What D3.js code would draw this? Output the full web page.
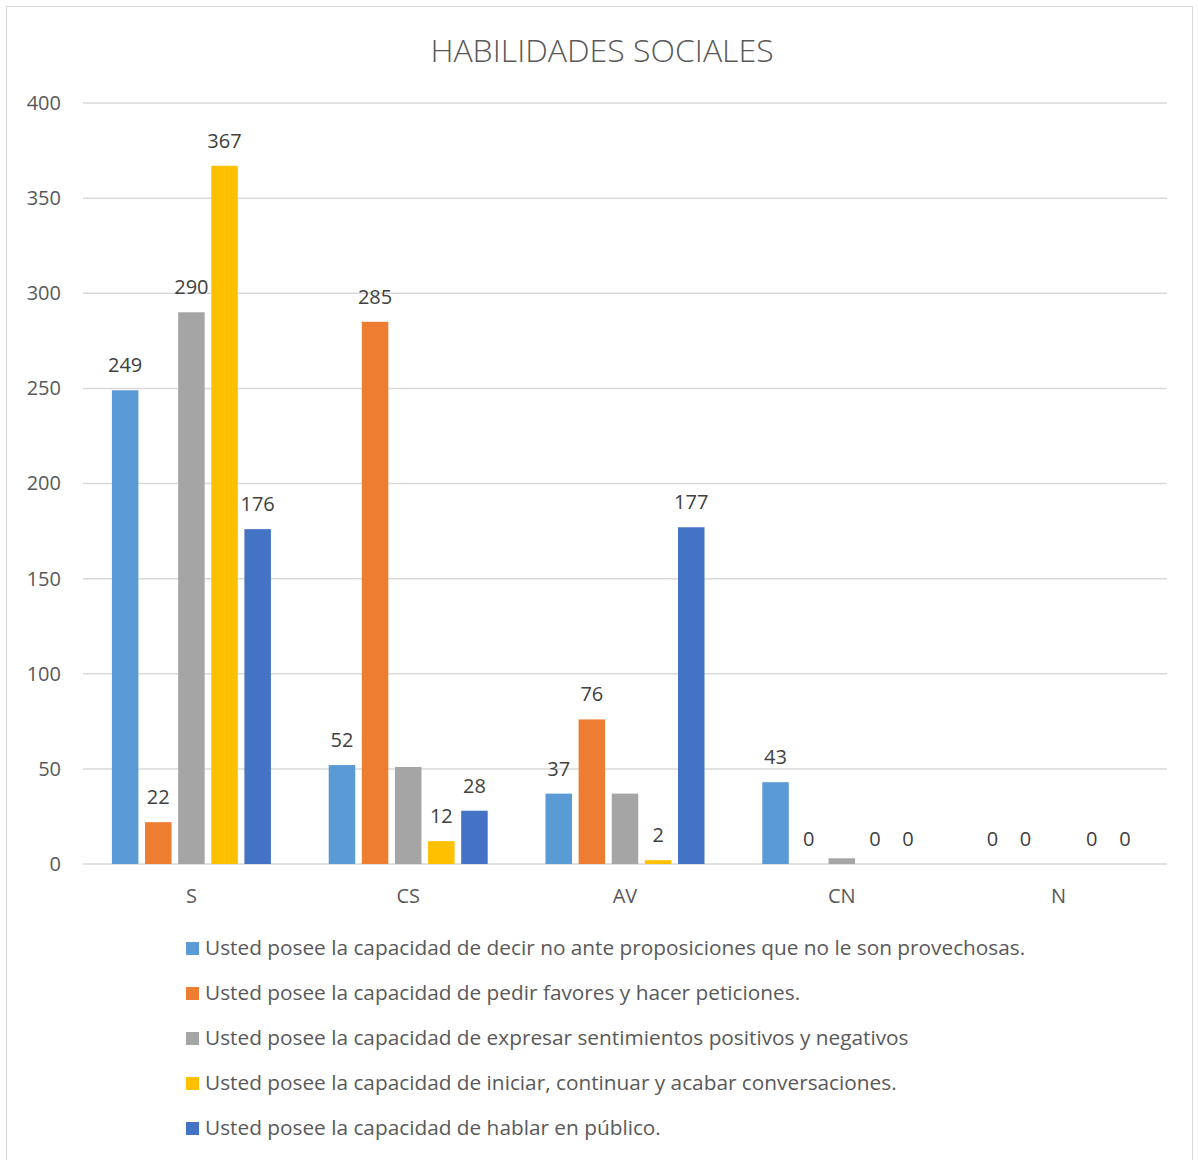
<!DOCTYPE html>
<html><head><meta charset="utf-8">
<script src="https://cdn.jsdelivr.net/npm/d3@7"></script>
<style>body{margin:0;background:#fff}</style>
</head><body>
<svg id="c" width="1198" height="1160"></svg>
<script>
const categories = ["S", "CS", "AV", "CN", "N"];
const seriesNames = [
  "Usted posee la capacidad de decir no ante proposiciones que no le son provechosas.",
  "Usted posee la capacidad de pedir favores y hacer peticiones.",
  "Usted posee la capacidad de expresar sentimientos positivos y negativos",
  "Usted posee la capacidad de iniciar, continuar y acabar conversaciones.",
  "Usted posee la capacidad de hablar en público."
];
const decirNo = [249, 52, 37, 43, 0];
const pedirFavores = [22, 285, 76, 0, 0];
const expresar = [290, 51, 37, 3, 0];
const conversaciones = [367, 12, 2, 0, 0];
const hablarPublico = [176, 28, 177, 0, 0];
const seriesValues = [decirNo, pedirFavores, expresar, conversaciones, hablarPublico];
// which data labels are shown (gray series only labelled at S)
const labelShown = [
  [true, true, true, true, true],
  [true, true, true, true, true],
  [true, false, false, false, false],
  [true, true, true, true, true],
  [true, true, true, true, true]
];
const yTicks = [0, 50, 100, 150, 200, 250, 300, 350, 400];
const colors = ["#5B9BD5", "#ED7D31", "#A5A5A5", "#FFC000", "#4472C4"];

const svg = d3.select("#c");
const font = "'Open Sans', sans-serif";
svg.append("rect").attr("x", 6.5).attr("y", 6.5).attr("width", 1186).attr("height", 1160)
  .attr("fill", "#fff").attr("stroke", "#D9D9D9").attr("stroke-width", 1);

const pLeft = 83, pRight = 1167, pTop = 103, pBottom = 864;
const x = d3.scaleBand().domain(categories).range([pLeft, pRight]).padding(0);
const y = d3.scaleLinear().domain([0, 400]).range([pBottom, pTop]);
const groupW = 159;
const inner = d3.scaleBand().domain(d3.range(5)).range([0, groupW]).paddingInner(0.2).paddingOuter(0);
const barX = (i, si) => x(categories[i]) + x.bandwidth() / 2 - groupW / 2 + inner(si);

svg.append("text").attr("x", 602).attr("y", 62).attr("text-anchor", "middle")
  .attr("font-family", font).attr("font-size", 32).attr("font-weight", 300).attr("fill", "#595959")
  .text("HABILIDADES SOCIALES");

// gridlines
svg.append("g").selectAll("line").data(yTicks).join("line")
  .attr("x1", pLeft).attr("x2", pRight).attr("y1", d => y(d)).attr("y2", d => y(d))
  .attr("stroke", "#D9D9D9").attr("stroke-width", 1.5);

// y axis labels
const yAxis = svg.append("g").attr("transform", `translate(${pLeft},0)`)
  .call(d3.axisLeft(y).tickValues(yTicks).tickSize(0).tickPadding(22));
yAxis.select(".domain").remove();
yAxis.selectAll("text").attr("font-family", font).attr("font-size", 20).attr("fill", "#595959");

// x axis labels
const xAxis = svg.append("g").attr("transform", `translate(0,${pBottom})`)
  .call(d3.axisBottom(x).tickSize(0).tickPadding(25));
xAxis.select(".domain").remove();
xAxis.selectAll("text").attr("font-family", font).attr("font-size", 20).attr("fill", "#595959");

// bars
seriesValues.forEach((vals, si) => {
  const g = svg.append("g");
  g.selectAll("rect").data(vals).join("rect")
    .attr("x", (d, i) => barX(i, si))
    .attr("width", inner.bandwidth())
    .attr("y", d => y(d))
    .attr("height", d => y(0) - y(d))
    .attr("fill", colors[si]);
  g.selectAll("text").data(vals).join("text")
    .filter((d, i) => labelShown[si][i])
    .attr("x", (d, i) => barX(i, si) + inner.bandwidth() / 2)
    .attr("y", d => y(d) - 18)
    .attr("text-anchor", "middle")
    .attr("font-family", font).attr("font-size", 20).attr("fill", "#404040")
    .text(d => d);
});

// legend
const lg = svg.append("g");
seriesNames.forEach((name, i) => {
  const yy = 948 + i * 45;
  lg.append("rect").attr("x", 186).attr("y", yy - 6).attr("width", 13).attr("height", 13).attr("fill", colors[i]);
  lg.append("text").attr("x", 205).attr("y", yy + 7).attr("font-family", font).attr("font-size", 20.8)
    .attr("fill", "#595959").text(name);
});
</script>
</body></html>
